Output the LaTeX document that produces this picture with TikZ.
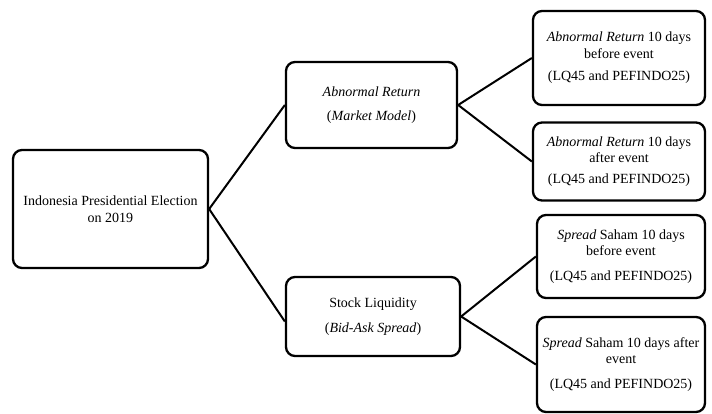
\documentclass[tikz,border=0pt]{standalone}
\usepackage{fontspec}
\setmainfont{Liberation Serif}
\begin{document}
\begin{tikzpicture}[x=1pt,y=-1pt,
  box/.style={draw=black,line width=2.3pt,rounded corners=9pt,align=center,inner sep=0pt,
    font=\fontsize{14}{16.5}\selectfont},
  link/.style={draw=black,line width=2pt}]
\useasboundingbox[fill=white] (0,0) rectangle (712,414);
\node[box,minimum width=195pt,minimum height=118pt] (A) at (110.5,209)
  {Indonesia Presidential Election\\on 2019};
\node[box,minimum width=171pt,minimum height=86pt] (B) at (371.5,105)
  {\textit{Abnormal Return}\\[8pt](\textit{Market Model})};
\node[box,minimum width=174pt,minimum height=79pt] (C) at (373,316.5)
  {Stock Liquidity\\[8pt](\textit{Bid-Ask Spread})};
\node[box,minimum width=172pt,minimum height=94pt] (D) at (619,58)
  {\textit{Abnormal Return} 10 days\\before event\\[6pt](LQ45 and PEFINDO25)};
\node[box,minimum width=172pt,minimum height=78pt] (E) at (619,161.5)
  {\textit{Abnormal Return} 10 days\\after event\\[4pt](LQ45 and PEFINDO25)};
\node[box,minimum width=168pt,minimum height=83pt] (F) at (621,256.5)
  {\textit{Spread} Saham 10 days\\before event\\[8pt](LQ45 and PEFINDO25)};
\node[box,minimum width=168pt,minimum height=95pt] (G) at (621,364.5)
  {\textit{Spread} Saham 10 days after\\event\\[8pt](LQ45 and PEFINDO25)};
\draw[link] (A.east) -- (B.west);
\draw[link] (A.east) -- ([yshift=-5pt]C.west);
\draw[link] (B.east) -- (D.west);
\draw[link] (B.east) -- (E.west);
\draw[link] (C.east) -- (F.west);
\draw[link] (C.east) -- (G.west);
\end{tikzpicture}
\end{document}
